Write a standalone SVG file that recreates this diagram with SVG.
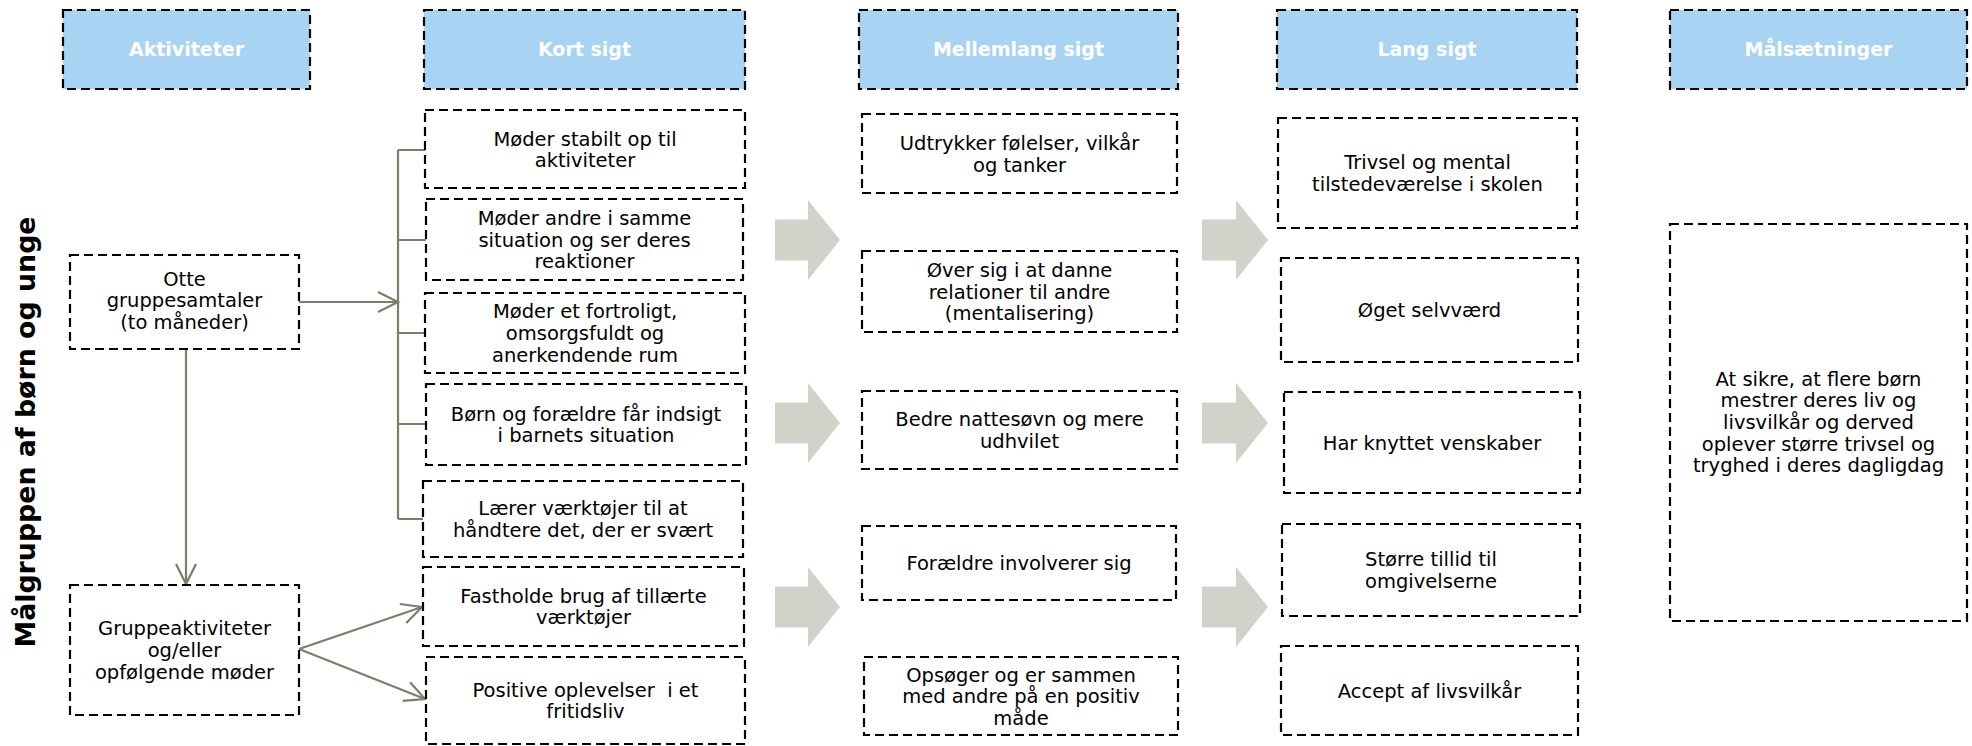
<svg xmlns="http://www.w3.org/2000/svg" width="1972" height="746" viewBox="0 0 1972 746">
<style>
.hdr{fill:#A8D3F2;stroke:#000;stroke-width:2.2;stroke-dasharray:9 5}
.box{fill:#fff;stroke:#000;stroke-width:2.2;stroke-dasharray:9 5}
.ht{font-family:"DejaVu Sans",Verdana,sans-serif;font-size:19px;font-weight:bold;fill:#fff;text-anchor:middle}
.t{font-family:"DejaVu Sans",Verdana,sans-serif;font-size:19.5px;fill:#000;text-anchor:middle}
.con{fill:none;stroke:#7d7d6b;stroke-width:2.2}
.blk{fill:#D2D2CA}
.lbl{font-family:"DejaVu Sans",Verdana,sans-serif;font-size:26.8px;font-weight:bold;fill:#000;text-anchor:middle}
</style>
<defs>
<marker id="arr" markerUnits="userSpaceOnUse" markerWidth="26" markerHeight="26" refX="22" refY="11" orient="auto">
<path d="M2,1 L22,11 L2,21" fill="none" stroke="#7d7d6b" stroke-width="2.2"/>
</marker>
</defs>
<rect width="1972" height="746" fill="#fff"/>

<g id="headers">
<g id="h-akt"><rect class="hdr" x="63" y="10" width="247" height="79"/><text class="ht" x="186.5" y="56">Aktiviteter</text></g>
<g id="h-kort"><rect class="hdr" x="424" y="10" width="321" height="79"/><text class="ht" x="584.5" y="56">Kort sigt</text></g>
<g id="h-mellem"><rect class="hdr" x="859" y="10" width="319" height="79"/><text class="ht" x="1018.5" y="56">Mellemlang sigt</text></g>
<g id="h-lang"><rect class="hdr" x="1277" y="10" width="300" height="79"/><text class="ht" x="1427" y="56">Lang sigt</text></g>
<g id="h-maal"><rect class="hdr" x="1670" y="10" width="297" height="79"/><text class="ht" x="1818.5" y="56">Målsætninger</text></g>
</g>

<g id="side-label"><text class="lbl" transform="translate(35,432) rotate(-90)">Målgruppen af børn og unge</text></g>

<g id="arrows-block">
<polygon class="blk" points="775,219.5 808,219.5 808,200 840,240 808,280 808,260.5 775,260.5"/>
<polygon class="blk" points="775,402.5 808,402.5 808,383 840,423 808,463 808,443.5 775,443.5"/>
<polygon class="blk" points="775,586.5 808,586.5 808,567 840,607 808,647 808,627.5 775,627.5"/>
<polygon class="blk" points="1202,219.5 1236,219.5 1236,200 1268,240 1236,280 1236,260.5 1202,260.5"/>
<polygon class="blk" points="1202,402.5 1236,402.5 1236,383 1268,423 1236,463 1236,443.5 1202,443.5"/>
<polygon class="blk" points="1202,586.5 1236,586.5 1236,567 1268,607 1236,647 1236,627.5 1202,627.5"/>
</g>

<g id="connectors">
<path class="con" d="M299,302 H398" marker-end="url(#arr)"/>
<path class="con" d="M398,150 V519"/>
<path class="con" d="M398,150 H425 M398,240 H426 M398,333 H425 M398,424 H426 M398,519 H423"/>
<path class="con" d="M186,349 V584" marker-end="url(#arr)"/>
<path class="con" d="M299,649 L422,607" marker-end="url(#arr)"/>
<path class="con" d="M299,649 L425,699" marker-end="url(#arr)"/>
</g>

<g id="n-otte"><rect class="box" x="70" y="255" width="229" height="94"/><text class="t" x="184.5" y="285.5">Otte<tspan x="184.5" dy="21.7">gruppesamtaler</tspan><tspan x="184.5" dy="21.7">(to måneder)</tspan></text></g>
<g id="n-gruppe"><rect class="box" x="70" y="585" width="229" height="130"/><text class="t" x="184.5" y="635.3">Gruppeaktiviteter<tspan x="184.5" dy="21.7">og/eller</tspan><tspan x="184.5" dy="21.7">opfølgende møder</tspan></text></g>

<g id="k1"><rect class="box" x="425" y="110" width="320" height="78"/><text class="t" x="585" y="145.5">Møder stabilt op til<tspan x="585" dy="21.7">aktiviteter</tspan></text></g>
<g id="k2"><rect class="box" x="426" y="199" width="317" height="81"/><text class="t" x="584.5" y="224.8">Møder andre i samme<tspan x="584.5" dy="21.7">situation og ser deres</tspan><tspan x="584.5" dy="21.7">reaktioner</tspan></text></g>
<g id="k3"><rect class="box" x="425" y="293" width="320" height="80"/><text class="t" x="585" y="318.3">Møder et fortroligt,<tspan x="585" dy="21.7">omsorgsfuldt og</tspan><tspan x="585" dy="21.7">anerkendende rum</tspan></text></g>
<g id="k4"><rect class="box" x="426" y="384" width="320" height="81"/><text class="t" x="586" y="420.7">Børn og forældre får indsigt<tspan x="586" dy="21.7">i barnets situation</tspan></text></g>
<g id="k5"><rect class="box" x="423" y="481" width="320" height="76"/><text class="t" x="583" y="515">Lærer værktøjer til at<tspan x="583" dy="21.7">håndtere det, der er svært</tspan></text></g>
<g id="k6"><rect class="box" x="423" y="567" width="321" height="79"/><text class="t" x="583.5" y="602.6">Fastholde brug af tillærte<tspan x="583.5" dy="21.7">værktøjer</tspan></text></g>
<g id="k7"><rect class="box" x="426" y="657" width="319" height="87"/><text class="t" x="585.5" y="696.6">Positive oplevelser&#160; i et<tspan x="585.5" dy="21.7">fritidsliv</tspan></text></g>

<g id="m1"><rect class="box" x="862" y="114" width="315" height="79"/><text class="t" x="1019.5" y="150">Udtrykker følelser, vilkår<tspan x="1019.5" dy="21.7">og tanker</tspan></text></g>
<g id="m2"><rect class="box" x="862" y="251" width="315" height="81"/><text class="t" x="1019.5" y="277">Øver sig i at danne<tspan x="1019.5" dy="21.7">relationer til andre</tspan><tspan x="1019.5" dy="21.7">(mentalisering)</tspan></text></g>
<g id="m3"><rect class="box" x="862" y="391" width="315" height="78"/><text class="t" x="1019.5" y="426">Bedre nattesøvn og mere<tspan x="1019.5" dy="21.7">udhvilet</tspan></text></g>
<g id="m4"><rect class="box" x="862" y="526" width="314" height="74"/><text class="t" x="1019" y="570">Forældre involverer sig</text></g>
<g id="m5"><rect class="box" x="864" y="657" width="314" height="78"/><text class="t" x="1021" y="681.6">Opsøger og er sammen<tspan x="1021" dy="21.7">med andre på en positiv</tspan><tspan x="1021" dy="21.7">måde</tspan></text></g>

<g id="l1"><rect class="box" x="1278" y="118" width="299" height="110"/><text class="t" x="1427.5" y="169">Trivsel og mental<tspan x="1427.5" dy="21.7">tilstedeværelse i skolen</tspan></text></g>
<g id="l2"><rect class="box" x="1281" y="258" width="297" height="104"/><text class="t" x="1429.5" y="317">Øget selvværd</text></g>
<g id="l3"><rect class="box" x="1284" y="392" width="296" height="101"/><text class="t" x="1432" y="449.5">Har knyttet venskaber</text></g>
<g id="l4"><rect class="box" x="1282" y="524" width="298" height="92"/><text class="t" x="1431" y="566">Større tillid til<tspan x="1431" dy="21.7">omgivelserne</tspan></text></g>
<g id="l5"><rect class="box" x="1281" y="646" width="297" height="89"/><text class="t" x="1429.5" y="697.5">Accept af livsvilkår</text></g>

<g id="goal"><rect class="box" x="1670" y="224" width="297" height="397"/><text class="t" x="1818.5" y="385.6">At sikre, at flere børn<tspan x="1818.5" dy="21.7">mestrer deres liv og</tspan><tspan x="1818.5" dy="21.7">livsvilkår og derved</tspan><tspan x="1818.5" dy="21.7">oplever større trivsel og</tspan><tspan x="1818.5" dy="21.7">tryghed i deres dagligdag</tspan></text></g>
</svg>
